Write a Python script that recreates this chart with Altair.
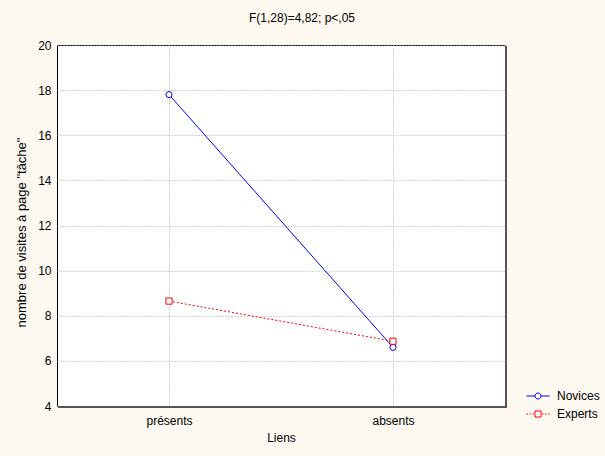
import altair as alt
import pandas as pd

categories = ["présents", "absents"]
groups = ["Novices", "Experts"]
novices = [17.8, 6.6]
experts = [8.65, 6.87]
colors = ["#0000ff", "#ff0000"]
y_ticks = [4, 6, 8, 10, 12, 14, 16, 18, 20]

rows = []
for g, vals in zip(groups, [novices, experts]):
    for c, v in zip(categories, vals):
        rows.append({"Liens": c, "value": v, "group": g})
df = pd.DataFrame(rows)

FONT = "Liberation Sans"
W, H = 448, 361

circle_path = ("M-2.3,0H-0.6M0.6,0H2.3"
               "M0.6,0A0.6,0.6,0,1,1,-0.6,0A0.6,0.6,0,1,1,0.6,0")
square_path = ("M-2.3,0H-2.0M-1.7,0H-1.4M-1.1,0H-0.8"
               "M0.8,0H1.1M1.4,0H1.7M2.0,0H2.3"
               "M-0.6,-0.6H0.6V0.6H-0.6Z")
sym_expr = f"datum.value === 'Novices' ? '{circle_path}' : '{square_path}'"

color_scale = alt.Scale(domain=groups, range=colors)

x_enc = alt.X(
    "Liens:N", sort=categories,
    scale=alt.Scale(type="point", padding=0.5),
    axis=alt.Axis(title="Liens", labelAngle=0, grid=True, gridDash=[1, 2],
                  gridColor="#aaaaaa", ticks=False, domain=False,
                  labelPadding=9, titlePadding=6),
)
y_enc = alt.Y(
    "value:Q",
    scale=alt.Scale(domain=[4, 20], nice=False, zero=False),
    axis=alt.Axis(title='nombre de visites à page "tâche"', values=y_ticks,
                  grid=True, gridDash=[1, 2], gridColor="#aaaaaa",
                  ticks=False, domain=False, labelPadding=6, titlePadding=9,
                  titleFontSize=13, titleY=187),
)

legend = alt.Legend(
    title=None, orient="none", legendX=475, legendY=345,
    symbolType=alt.ExprRef(expr=sym_expr),
    symbolSize=100, symbolStrokeWidth=1,
    symbolFillColor="white", labelOffset=13,
    labelFontSize=12, labelFont=FONT, labelColor="black",
    rowPadding=6, padding=0)

base = alt.Chart(df)

line_nov = base.mark_line(strokeWidth=1).encode(
    x=x_enc, y=y_enc,
    color=alt.Color("group:N", scale=color_scale, sort=groups, legend=legend),
).transform_filter(alt.datum.group == "Novices")

line_exp = base.mark_line(strokeWidth=1, strokeDash=[2, 2]).encode(
    x=x_enc, y=y_enc,
    color=alt.Color("group:N", scale=color_scale, sort=groups, legend=legend),
).transform_filter(alt.datum.group == "Experts")

pt_nov = base.mark_point(shape="circle", filled=False, fill="white", fillOpacity=1,
                         size=38, strokeWidth=1, opacity=1).encode(
    x=x_enc, y=y_enc,
    color=alt.Color("group:N", scale=color_scale, legend=None),
).transform_filter(alt.datum.group == "Novices")

pt_exp = base.mark_point(shape="square", filled=False, fill="white", fillOpacity=1,
                         size=38, strokeWidth=1, opacity=1).encode(
    x=x_enc, y=y_enc,
    color=alt.Color("group:N", scale=color_scale, legend=None),
).transform_filter(alt.datum.group == "Experts")

# frame shadow (right and bottom edges)
shadow_r = alt.Chart(df).mark_rule(color="#555555", strokeWidth=2).encode(
    x=alt.value(W + 1), y=alt.value(1), y2=alt.value(H + 2))
shadow_b = alt.Chart(df).mark_rule(color="#555555", strokeWidth=2).encode(
    x=alt.value(1), x2=alt.value(W + 2), y=alt.value(H + 1))

chart = alt.layer(line_nov, line_exp, pt_nov, pt_exp, shadow_r, shadow_b).properties(
    width=W, height=H,
    background="#FDF9F0",
    autosize=alt.AutoSizeParams(type="none"),
    padding={"left": 57, "top": 45, "right": 100, "bottom": 50},
    title=alt.TitleParams("F(1,28)=4,82; p<,05", fontSize=12, font=FONT,
                          fontWeight="normal", anchor="middle", dx=21, offset=14,
                          color="black"),
).configure_view(
    fill="white", stroke="black", strokeWidth=1
).configure_axis(
    labelFont=FONT, labelFontSize=12, labelColor="black",
    titleFont=FONT, titleFontSize=12, titleFontWeight="normal", titleColor="black",
)

chart.save("out.html", embed_options={"renderer": "svg", "actions": False})
